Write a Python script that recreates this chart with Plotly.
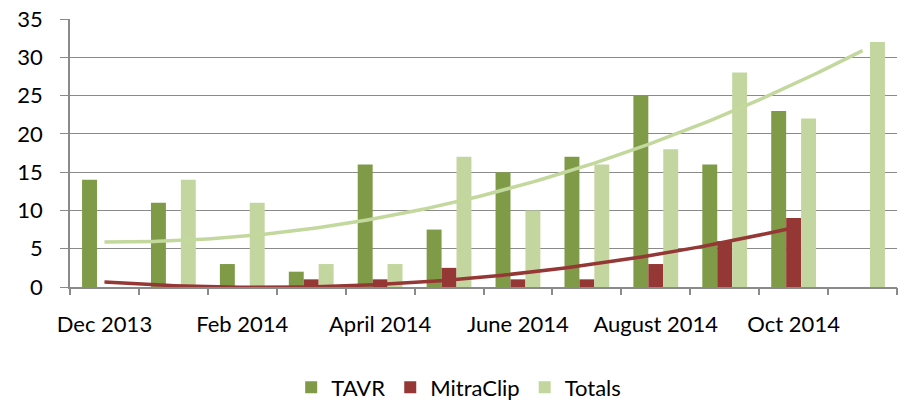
import numpy as np
import plotly.graph_objects as go

months = ["Dec 2013", "Jan 2014", "Feb 2014", "Mar 2014", "April 2014", "May 2014",
          "June 2014", "July 2014", "August 2014", "Sep 2014", "Oct 2014", "Nov 2014"]
tick_labels = ["Dec 2013", "Feb 2014", "April 2014", "June 2014", "August 2014", "Oct 2014"]
tavr = [14, 11, 3, 2, 16, 7.5, 15, 17, 25, 16, 23, None]
mitraclip = [0, 0, 0, 1, 1, 2.5, 1, 1, 3, 6, 9, None]
totals = [None, 14, 11, 3, 3, 17, 10, 16, 18, 28, 22, 32]

C_TAVR = "#7F9B48"
C_MITRA = "#953735"
C_TOT = "#C4D69F"
C_TOT_TREND = "#C3D89C"
GRID = "#8A8A8A"
FONT = "Lato"
FS = 22

idx = np.arange(len(months))

fig = go.Figure()
fig.add_bar(x=idx, y=tavr, name="TAVR", marker_color=C_TAVR, marker_line_width=0)
fig.add_bar(x=idx, y=mitraclip, name="MitraClip", marker_color=C_MITRA, marker_line_width=0)
fig.add_bar(x=idx, y=totals, name="Totals", marker_color=C_TOT, marker_line_width=0)

# Totals polynomial (order 2) trendline; blank month counts as zero, as in the spreadsheet
ys_t = np.array([0 if v is None else v for v in totals], float)
tx = np.linspace(idx[0], idx[-1], 200)
ty = np.polyval(np.polyfit(idx.astype(float), ys_t, 2), tx)
fig.add_scatter(x=tx, y=ty, mode="lines", line=dict(color=C_TOT_TREND, width=3.5),
                showlegend=False, hoverinfo="skip")

# MitraClip polynomial (order 2) trendline over the months with data
xs_m = np.array([i for i, v in zip(idx, mitraclip) if v is not None], float)
ys_m = np.array([v for v in mitraclip if v is not None], float)
mx = np.linspace(xs_m.min(), xs_m.max(), 200)
my = np.polyval(np.polyfit(xs_m, ys_m, 2), mx)
fig.add_scatter(x=mx, y=my, mode="lines", line=dict(color=C_MITRA, width=3.5),
                showlegend=False, hoverinfo="skip")

# invisible trace for the boundary tick axis
fig.add_scatter(x=[-0.5, 11.5], y=[0, 0], xaxis="x2", mode="markers",
                marker=dict(opacity=0), showlegend=False, hoverinfo="skip")

fig.update_layout(
    width=904, height=402,
    margin=dict(l=70, r=7, t=19, b=115, autoexpand=False),
    paper_bgcolor="white", plot_bgcolor="white",
    barmode="group", bargap=0.35, bargroupgap=0,
    font=dict(family=FONT, size=FS, color="#000000"),
    legend=dict(orientation="h", x=0.47, xanchor="center", y=-0.375, yanchor="middle",
                font=dict(size=FS), traceorder="normal", itemclick=False),
    xaxis=dict(range=[-0.5, 11.5], tickvals=[0, 2, 4, 6, 8, 10], ticktext=tick_labels,
               ticks="outside", ticklen=17, tickcolor="rgba(0,0,0,0)",
               showgrid=False, zeroline=False, showline=True, linecolor=GRID, linewidth=1.5,
               tickfont=dict(size=FS)),
    xaxis2=dict(range=[-0.5, 11.5], overlaying="x", anchor="y", side="bottom",
                tickvals=list(np.arange(-0.5, 12, 1.0)), ticks="outside", ticklen=7,
                tickwidth=1.5, tickcolor=GRID, showticklabels=False, showgrid=False,
                zeroline=False, showline=False),
    yaxis=dict(range=[0, 35], dtick=5, tick0=0, showgrid=True, gridcolor=GRID, gridwidth=1.2,
               zeroline=False, showline=True, linecolor=GRID, linewidth=1.5,
               ticks="outside", ticklen=8, tickwidth=1.2, tickcolor=GRID,
               ticklabelstandoff=13, tickfont=dict(size=FS)),
)

fig.write_html("out.html", config={"displayModeBar": False},
               post_script="document.body.style.margin='0';")
